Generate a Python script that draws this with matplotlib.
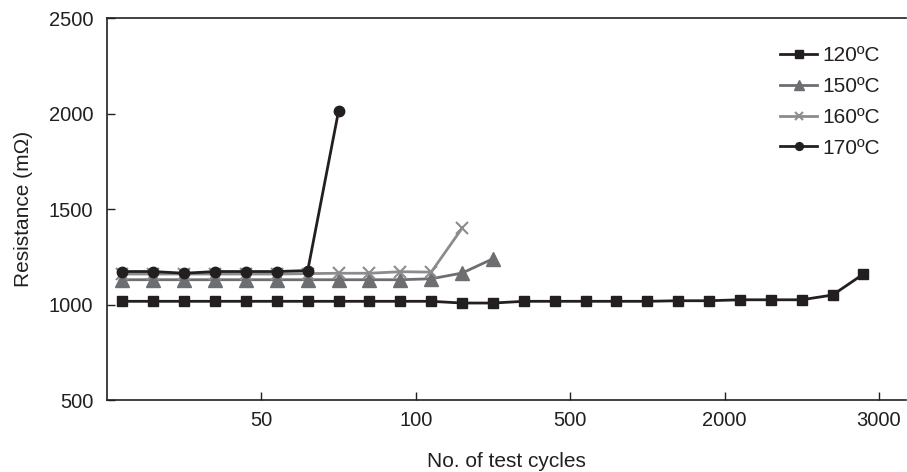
import matplotlib
matplotlib.use("Agg")
import matplotlib.pyplot as plt
import numpy as np

plt.rcParams['font.family'] = ['Liberation Sans', 'DejaVu Sans']

# category positions (equally spaced test points)
n_points = 25
tick_labels = ["50", "100", "500", "2000", "3000"]
tick_after_point = [5, 10, 15, 20, 25]  # label ticks at category boundaries

r120 = [1017, 1017, 1017, 1017, 1017, 1017, 1017, 1017, 1017, 1017, 1017,
        1008, 1008, 1017, 1017, 1017, 1017, 1017, 1020, 1020, 1025, 1025,
        1025, 1050, 1160]
r150 = [1130, 1130, 1130, 1130, 1130, 1130, 1130, 1130, 1130, 1130, 1135,
        1165, 1240]
r160 = [1160, 1160, 1160, 1160, 1160, 1160, 1162, 1164, 1164, 1172, 1170,
        1400]
r170 = [1173, 1173, 1164, 1173, 1173, 1173, 1178, 2015]

FS_TICK = 14.5
FS = 15
fig = plt.figure(figsize=(9.07, 4.72), dpi=100)
ax = fig.add_axes([0.118, 0.1525, 0.881, 0.809])

ax.plot(np.arange(len(r120)), r120, color="#231f20", lw=2, marker="s",
        ms=7.5, label="120ºC", zorder=3)
ax.plot(np.arange(len(r150)), r150, color="#6d6e71", lw=2, marker="^",
        ms=9.5, label="150ºC", zorder=2)
ax.plot(np.arange(len(r160)), r160, color="#8c8c8c", lw=2, marker="x",
        ms=8.5, mew=1.5, label="160ºC", zorder=2.5)
ax.plot(np.arange(len(r170)), r170, color="#231f20", lw=2, marker="o",
        ms=7.5, label="170ºC", zorder=4)

ax.set_xlim(-0.5, 25.38)
ax.set_ylim(500, 2500)
ax.set_yticks([500, 1000, 1500, 2000, 2500])
ax.set_xticks([t - 0.5 for t in tick_after_point])
ax.set_xticklabels(tick_labels)

for s in ["left", "bottom", "top"]:
    ax.spines[s].set_color("#231f20")
    ax.spines[s].set_linewidth(1.2)
ax.spines["right"].set_visible(False)

ax.tick_params(axis="both", direction="in", length=6, width=1,
               color="#231f20", labelsize=FS_TICK, labelcolor="#231f20")
ax.tick_params(axis="x", pad=8)
ax.tick_params(axis="y", pad=10)

ax.set_xlabel("No. of test cycles", fontsize=FS, color="#231f20", labelpad=16)
ax.set_ylabel("Resistance (mΩ)", fontsize=FS, color="#231f20", labelpad=11)

leg = ax.legend(loc="upper right", bbox_to_anchor=(0.967, 0.927), frameon=False,
                fontsize=FS, handlelength=1.78, handletextpad=0.24,
                labelspacing=0.57, borderpad=0, borderaxespad=0,
                markerscale=0.75)
for t in leg.get_texts():
    t.set_color("#231f20")

fig.savefig("out.png", dpi=100)
